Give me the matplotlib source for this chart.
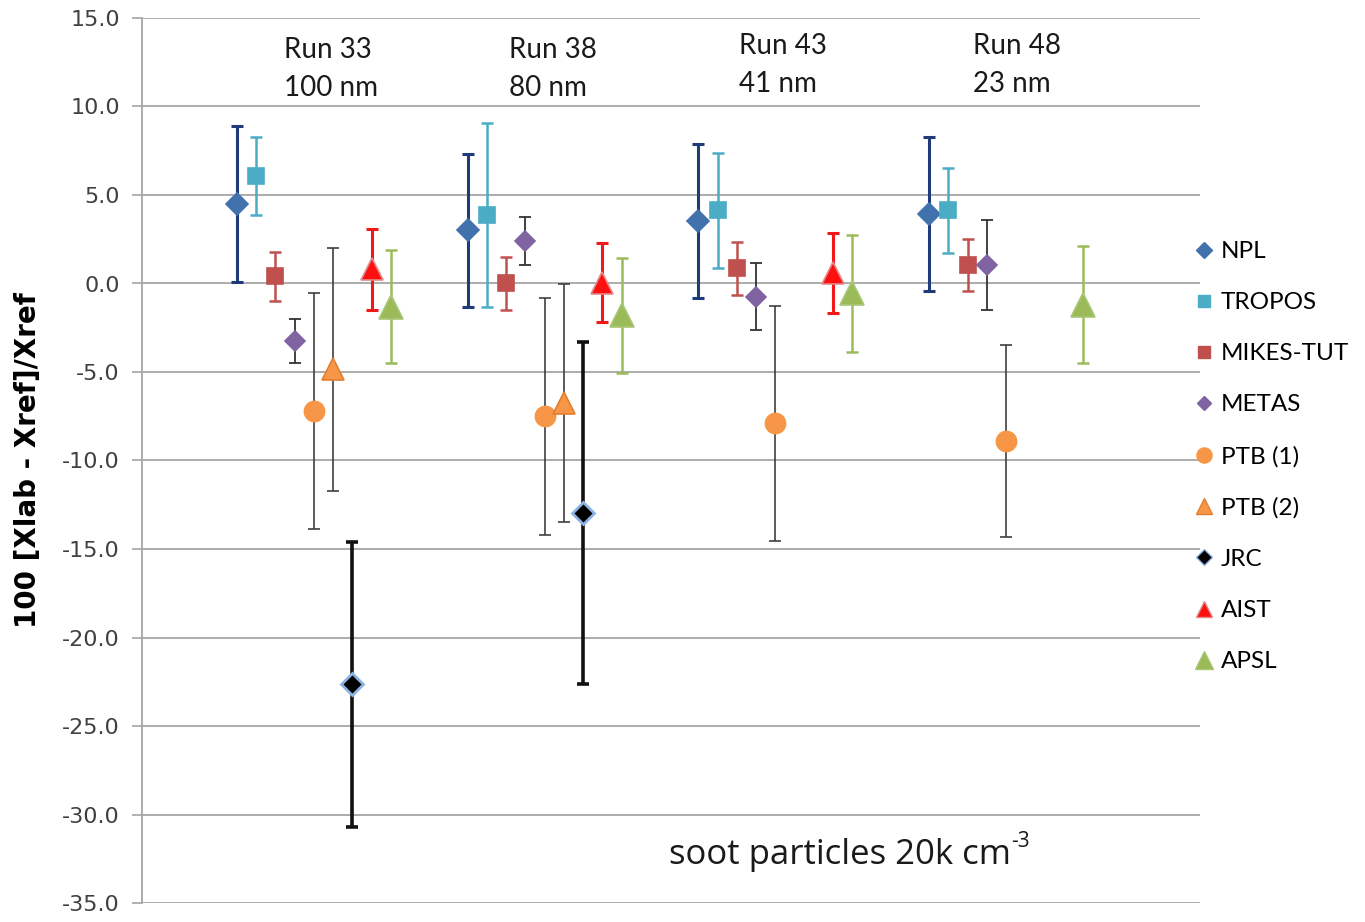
import numpy as np
import matplotlib
matplotlib.use('Agg')
import matplotlib.pyplot as plt
from matplotlib.lines import Line2D

# runs shown along the x direction
runs = ['Run 33\n100 nm', 'Run 38\n80 nm', 'Run 43\n41 nm', 'Run 48\n23 nm']

# one value + uncertainty per run for each lab (nan = no result)
npl = [4.5, 3.0, 3.55, 3.95]
npl_err = [4.4, 4.3, 4.35, 4.35]
tropos = [6.05, 3.85, 4.15, 4.15]
tropos_err = [2.2, 5.2, 3.25, 2.4]
mikes = [0.4, 0.0, 0.85, 1.05]
mikes_err = [1.4, 1.5, 1.5, 1.45]
metas = [-3.25, 2.4, -0.75, 1.05]
metas_err = [1.25, 1.37, 1.9, 2.55]
ptb1 = [-7.2, -7.5, -7.9, -8.9]
ptb1_err = [6.65, 6.7, 6.65, 5.45]
ptb2 = [-4.85, -6.75, np.nan, np.nan]
ptb2_err = [6.85, 6.7, np.nan, np.nan]
jrc = [-22.65, -12.95, np.nan, np.nan]
jrc_err = [8.05, 9.65, np.nan, np.nan]
aist = [0.8, 0.05, 0.6, np.nan]
aist_err = [2.3, 2.25, 2.25, np.nan]
apsl = [-1.3, -1.8, -0.55, -1.2]
apsl_err = [3.2, 3.25, 3.3, 3.3]

labs = ['NPL', 'TROPOS', 'MIKES-TUT', 'METAS', 'PTB (1)', 'PTB (2)', 'JRC', 'AIST', 'APSL']
values = [npl, tropos, mikes, metas, ptb1, ptb2, jrc, aist, apsl]
errors = [npl_err, tropos_err, mikes_err, metas_err, ptb1_err, ptb2_err, jrc_err, aist_err, apsl_err]

# style per lab: marker, size, face, edge, edge width, errbar colour, errbar width
styles = [
    ('D', 11.5, '#4272AE', '#4272AE', 1.2, '#1F3C78', 2.2),
    ('s', 12, '#4BACC6', '#4BACC6', 1.2, '#4BACC6', 1.8),
    ('s', 12, '#C0504D', '#C0504D', 1.2, '#C0504D', 1.8),
    ('D', 10, '#8064A2', '#8064A2', 1.2, '#333333', 1.3),
    ('o', 14.5, '#F79646', '#F79646', 1.2, '#404040', 1.2),
    ('^', 16, '#F79646', '#E07F30', 1.2, '#404040', 1.2),
    ('D', 11, '#000000', '#8DB3E2', 2.0, '#111111', 2.6),
    ('^', 16, '#FF1010', '#E08A8A', 1.2, '#F01818', 2.2),
    ('^', 17, '#9BBB59', '#A9C676', 1.2, '#9BBB59', 1.8),
]

fig = plt.figure(figsize=(13.65, 9.22), dpi=100)
ax = fig.add_axes([142 / 1365, 1 - 903 / 922, (1200 - 142) / 1365, (903 - 18) / 922])

step = 1 / 12
for j, (lab, v, e, st) in enumerate(zip(labs, values, errors, styles)):
    v = np.array(v, dtype=float)
    e = np.array(e, dtype=float)
    x = np.arange(len(runs)) + j * step
    ok = ~np.isnan(v)
    mk, ms, fc, ec, ew, erc, elw = st
    ax.errorbar(x[ok], v[ok], yerr=e[ok], fmt='none', ecolor=erc,
                elinewidth=elw, capsize=4.5, capthick=elw, zorder=2)
    ax.plot(x[ok], v[ok], linestyle='none', marker=mk, markersize=ms,
            markerfacecolor=fc, markeredgecolor=ec, markeredgewidth=ew, zorder=3)

ax.set_xlim(-0.412, 4.174)
ax.set_ylim(-35, 15)
ax.set_yticks(np.arange(-35, 16, 5))
ax.set_yticklabels([f'{t:.1f}' for t in np.arange(-35, 16, 5)])
ax.set_xticks([])
ax.yaxis.grid(True, color='#A6A6A6', linewidth=1.3)
ax.set_axisbelow(True)
for s in ['top', 'right', 'bottom']:
    ax.spines[s].set_visible(False)
ax.spines['left'].set_color('#A6A6A6')
ax.spines['left'].set_linewidth(1.3)
ax.tick_params(axis='y', length=7, width=1.2, color='#A6A6A6',
               labelsize=16, labelcolor='#404040', pad=9)
for t in ax.get_yticklabels():
    t.set_family('DejaVu Sans')

fig.text(28 / 1365, 1 - 460 / 922, '100 [Xlab - Xref]/Xref', rotation=90,
         ha='center', va='center', fontsize=20, fontweight='bold',
         family='DejaVu Sans')

# run labels above each group
label_y = [12.12, 12.12, 12.35, 12.35]
label_x = [0.205, 1.18, 2.175, 3.19]
for i, r in enumerate(runs):
    ax.text(label_x[i], label_y[i], r, ha='left', va='center', fontsize=20,
            family='Lato', linespacing=1.55, color='#1A1A1A')

soot = ax.text(1.872, -32.3, 'soot particles 20k cm', ha='left',
               va='center', fontsize=25, family='Open Sans', color='#1A1A1A')
ax.annotate('-3', xy=(1.0, 0.6), xycoords=soot, ha='left', va='bottom',
            fontsize=15, family='Open Sans', color='#1A1A1A')

handles = [Line2D([], [], linestyle='none', marker=st[0], markersize=st[1] * 0.75,
                  markerfacecolor=st[2], markeredgecolor=st[3]) for st in styles]
fig.legend(handles, labs, loc='upper left', bbox_to_anchor=(1195 / 1365, 1 - 241 / 922),
           frameon=False, prop={'family': 'Lato', 'size': 17.5}, labelspacing=1.24,
           handlelength=0.7, handletextpad=0.35, borderaxespad=0, borderpad=0)

fig.savefig('out.png', dpi=100)
